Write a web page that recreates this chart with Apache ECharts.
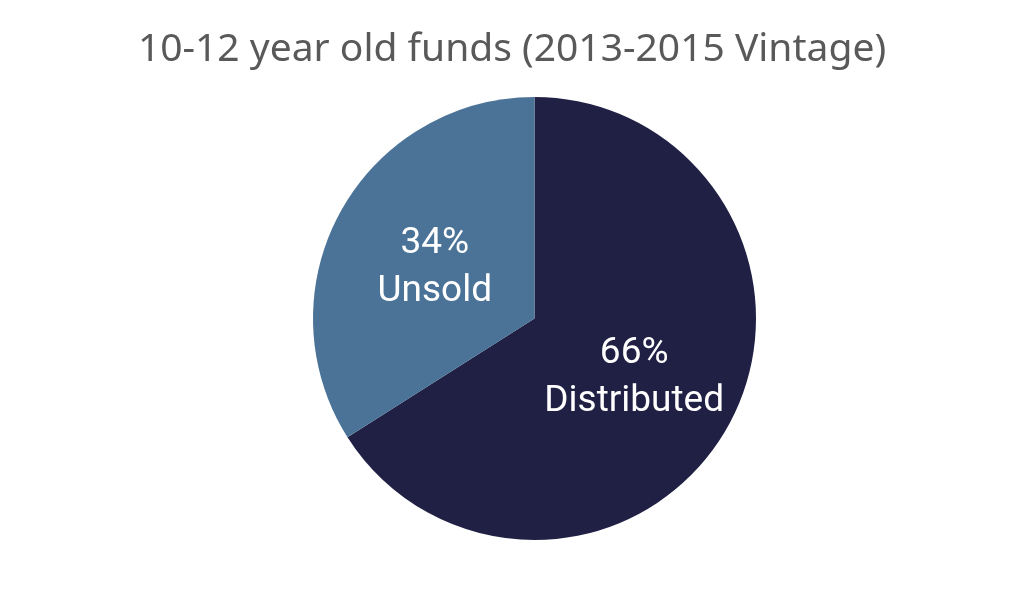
<!DOCTYPE html>
<html>
<head>
<meta charset="utf-8">
<script src="https://cdn.jsdelivr.net/npm/echarts@6/dist/echarts.min.js"></script>
<style>html,body{margin:0;padding:0;background:#fff}#c{width:1024px;height:596px}</style>
</head>
<body>
<div id="c"></div>
<script>
const categories = ['Distributed', 'Unsold'];
const values = [66, 34];
const colors = ['#1F2044', '#4A7397'];
const titleText = '10-12 year old funds (2013-2015 Vintage)';

const chart = echarts.init(document.getElementById('c'), null, {renderer: 'canvas'});
chart.setOption({
  animation: false,
  backgroundColor: '#ffffff',
  title: {
    text: titleText,
    left: 'center',
    top: 25,
    textStyle: {fontFamily: 'Noto Sans', fontWeight: 'normal', fontSize: 39, color: '#595959'}
  },
  series: [{
    type: 'pie',
    center: [534.5, 318.5],
    radius: [0, 221.5],
    startAngle: 90,
    clockwise: true,
    data: categories.map((c, i) => ({name: c, value: values[i], itemStyle: {color: colors[i]}})),
    label: {
      show: true,
      position: 'inside',
      formatter: p => p.value + '%\n' + p.name,
      color: '#ffffff',
      fontFamily: 'Roboto',
      fontSize: 37,
      lineHeight: 48,
      offset: [0, 4],
      textBorderWidth: 0
    },
    labelLine: {show: false},
    itemStyle: {borderWidth: 0},
    emphasis: {disabled: true}
  }]
});
</script>
</body>
</html>
